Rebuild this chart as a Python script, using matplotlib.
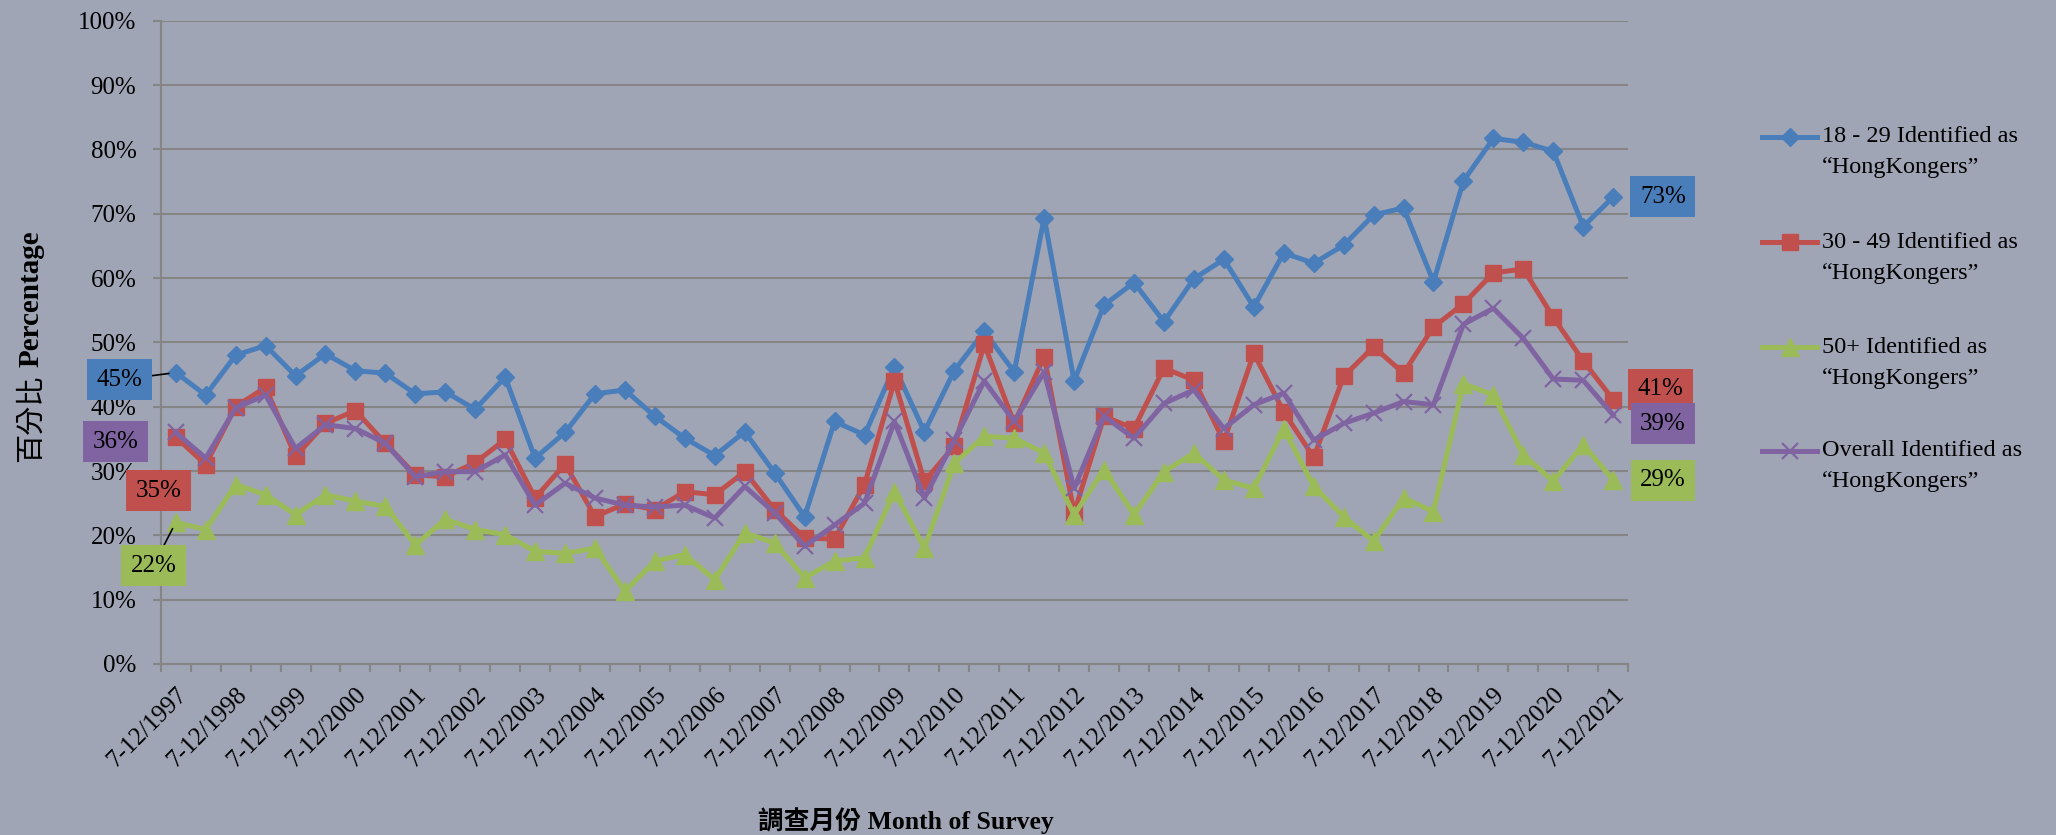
import numpy as np
import matplotlib.pyplot as plt
from matplotlib.lines import Line2D

# ==========================================
# DATA  (percent identified as "HongKongers")
# ==========================================

tick_labels = [
    "7-12/1997", "7-12/1998", "7-12/1999", "7-12/2000", "7-12/2001",
    "7-12/2002", "7-12/2003", "7-12/2004", "7-12/2005", "7-12/2006",
    "7-12/2007", "7-12/2008", "7-12/2009", "7-12/2010", "7-12/2011",
    "7-12/2012", "7-12/2013", "7-12/2014", "7-12/2015", "7-12/2016",
    "7-12/2017", "7-12/2018", "7-12/2019", "7-12/2020", "7-12/2021",
]

age_18_29 = [45.3, 41.8, 48.0, 49.5, 44.8, 48.2, 45.6, 45.2, 42.0, 42.3,
             39.6, 44.6, 32.0, 36.0, 42.0, 42.6, 38.5, 35.1, 32.4, 36.1,
             29.7, 22.9, 37.7, 35.6, 46.2, 36.1, 45.6, 51.7, 45.4, 69.4,
             44.0, 55.8, 59.3, 53.2, 59.9, 62.9, 55.5, 63.9, 62.3, 65.1,
             69.8, 70.9, 59.4, 75.1, 81.7, 81.1, 79.7, 68.0, 72.6]

age_30_49 = [35.3, 31.0, 40.0, 43.0, 32.3, 37.4, 39.4, 34.3, 29.4, 29.1,
             31.3, 34.9, 25.8, 31.1, 22.9, 24.9, 24.0, 26.8, 26.3, 29.9,
             24.0, 19.6, 19.4, 27.9, 44.0, 28.4, 33.9, 49.7, 37.4, 47.8,
             23.5, 38.5, 36.6, 46.0, 44.1, 34.6, 48.3, 39.2, 32.1, 44.7,
             49.3, 45.2, 52.4, 56.0, 60.8, 61.4, 53.9, 47.1, 41.1]

age_50_plus = [22.0, 20.9, 27.9, 26.3, 23.2, 26.3, 25.3, 24.5, 18.5, 22.5,
               20.9, 20.1, 17.5, 17.2, 18.0, 11.3, 16.0, 17.0, 13.1, 20.4,
               18.8, 13.4, 16.0, 16.5, 26.8, 18.0, 31.2, 35.4, 35.1, 32.8,
               23.2, 30.2, 23.2, 29.9, 32.8, 28.6, 27.3, 36.6, 27.6, 22.9,
               19.1, 25.8, 23.7, 43.6, 41.8, 32.5, 28.4, 34.1, 28.6]

overall = [36.0, 32.0, 39.8, 41.8, 33.5, 37.2, 36.6, 34.3, 29.1, 29.9,
           29.9, 32.5, 24.7, 28.1, 25.8, 24.7, 24.4, 24.7, 22.7, 27.6,
           23.5, 18.3, 21.6, 25.0, 37.7, 25.8, 34.8, 44.0, 37.7, 45.4,
           27.3, 38.5, 35.1, 40.5, 42.6, 36.6, 40.3, 42.1, 34.8, 37.4,
           39.0, 40.8, 40.3, 52.8, 55.3, 50.6, 44.3, 44.1, 38.7]

series_names = ["18 - 29 Identified as", "30 - 49 Identified as",
                "50+ Identified as", "Overall Identified as"]

# ==========================================
# STYLE
# ==========================================

plt.rcParams["font.family"] = ["Liberation Serif", "Noto Sans CJK TC"]
plt.rcParams["font.size"] = 17.5

bg = "#A0A5B6"
grid_c = "#858585"
blue = "#4A7EBB"
red = "#C0504D"
green = "#9BBB59"
purple = "#8064A2"

series = [
    (age_18_29, blue, "D", 9.5, 1.0),
    (age_30_49, red, "s", 11, 1.0),
    (age_50_plus, green, "^", 13, 1.0),
    (overall, purple, "x", 12, 1.6),
]

# ==========================================
# PLOT
# ==========================================

fig = plt.figure(figsize=(20.56, 8.35), dpi=100, facecolor=bg)
ax = fig.add_axes([0.0782, 0.2048, 0.7137, 0.7704], facecolor=bg)

x = np.arange(len(age_18_29))

for k, (vals, c, m, ms, mew) in enumerate(series):
    ax.plot(x, vals, color=c, linewidth=3.6, marker=m, markersize=ms,
            markerfacecolor=c, markeredgecolor=c, markeredgewidth=mew,
            zorder=3 + k)

ax.set_xlim(-0.5, len(x) - 0.5)
ax.set_ylim(0, 100)

yt = np.arange(0, 101, 10)
ax.set_yticks(yt)
ax.set_yticklabels([f"{v}%" for v in yt])
ax.tick_params(axis="y", length=5.5, width=1.5, color=grid_c, pad=12,
               labelsize=18)

# tick marks between categories, labels on every second survey
ax.set_xticks(np.arange(-0.5, len(x), 1))
ax.set_xticklabels([])
ax.tick_params(axis="x", which="major", length=6, width=1.5, color=grid_c)
ax.set_xticks(x[::2], tick_labels, minor=True)
ax.tick_params(axis="x", which="minor", length=0, pad=14, labelsize=18)
for lbl in ax.get_xticklabels(minor=True):
    lbl.set_rotation(45)
    lbl.set_ha("right")
    lbl.set_va("top")
    lbl.set_rotation_mode("anchor")

ax.yaxis.grid(True, color=grid_c, linewidth=1.5)
ax.set_axisbelow(True)
for s in ["top", "right"]:
    ax.spines[s].set_visible(False)
for s in ["left", "bottom"]:
    ax.spines[s].set_color(grid_c)
    ax.spines[s].set_linewidth(1.5)

# ==========================================
# VALUE LABELS (first and last survey)
# ==========================================

last = len(x) - 1
label_specs = [
    (age_18_29, 0, blue, (-40.8, -5.3), True),
    (overall, 0, purple, (-43.3, -6.6), False),
    (age_30_49, 0, red, (-12.4, -38.6), False),
    (age_50_plus, 0, green, (-16.0, -31.0), True),
    (age_18_29, last, blue, (35.8, 0.0), False),
    (age_30_49, last, red, (34.0, 7.6), False),
    (overall, last, purple, (35.8, -6.1), False),
    (age_50_plus, last, green, (35.8, 0.0), False),
]

for vals, i, c, off, leader in label_specs:
    v = vals[i]
    arrow = None
    if leader:
        arrow = dict(arrowstyle="-", color="black", lw=1.2, shrinkA=0, shrinkB=5)
    ax.annotate(f"{int(v + 0.5)}%", xy=(i, v), xytext=off,
                textcoords="offset points", ha="center", va="center",
                fontsize=18,
                bbox=dict(boxstyle="square,pad=0.38", fc=c, ec="none"),
                arrowprops=arrow, annotation_clip=False, zorder=10)

# ==========================================
# LEGEND (drawn by hand, handle on first text line)
# ==========================================

row_y = [0.836, 0.710, 0.584, 0.460]
for (vals, c, m, ms, mew), name, y in zip(series, series_names, row_y):
    fig.add_artist(Line2D([0.857, 0.8837], [y, y], transform=fig.transFigure,
                          color=c, linewidth=3.6))
    fig.add_artist(Line2D([0.8705], [y], transform=fig.transFigure,
                          marker=m, markersize=ms, markerfacecolor=c,
                          markeredgecolor=c, markeredgewidth=mew))
    fig.text(0.8862, y, name, ha="left", va="center")
    fig.text(0.8862, y - 0.0371, "\u201cHongKongers\u201d", ha="left", va="center")

# ==========================================
# AXIS TITLES
# ==========================================

fig.text(0.0151, 0.6420, "Percentage", rotation=90, weight="bold",
         fontsize=21, ha="center", va="center")
fig.text(0.0151, 0.4990, "百分比", rotation=90, family=["Noto Sans CJK TC"],
         fontsize=21, ha="center", va="center")
fig.text(0.4407, 0.0168, "調查月份 Month of Survey", weight="bold",
         fontsize=18.5, ha="center", va="center")

plt.savefig("out.png", dpi=100, facecolor=bg)
